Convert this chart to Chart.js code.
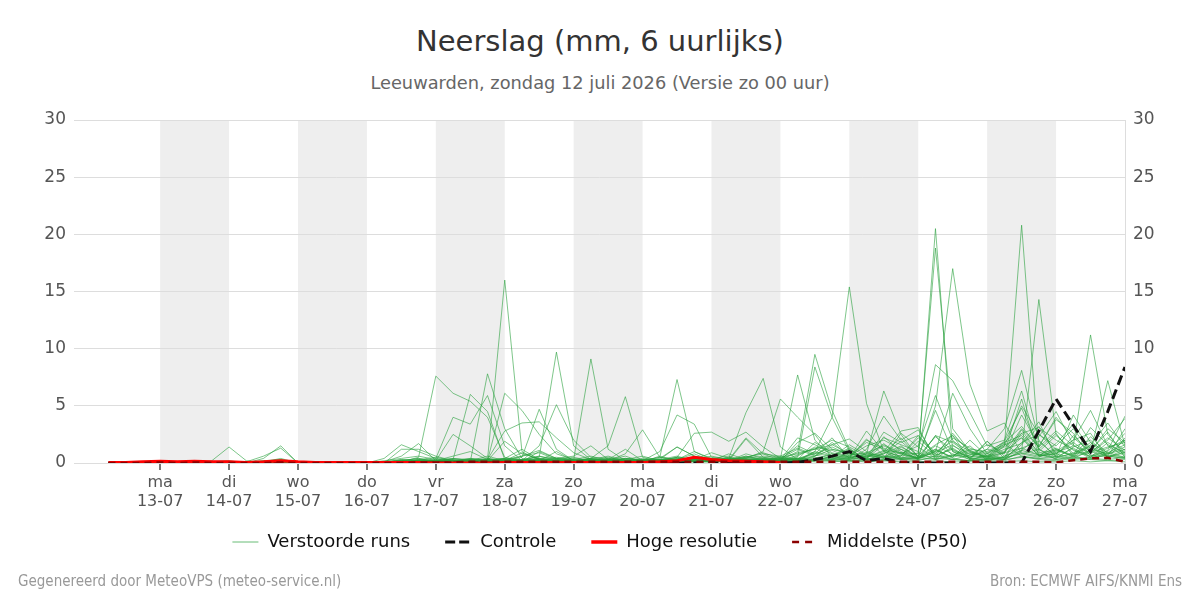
<!DOCTYPE html>
<html lang="nl">
<head>
<meta charset="utf-8">
<title>Neerslag (mm, 6 uurlijks)</title>
<script src="https://cdn.jsdelivr.net/npm/chart.js@4.4.1/dist/chart.umd.min.js"></script>
<style>
	body { margin: 0; background: #fff; font-family: 'DejaVu Sans', sans-serif; }
	#wrap { position: relative; width: 1200px; height: 600px; }
	#wrap canvas { position: absolute; left: 0; top: 0; }
	.title { position: absolute; left: 0; width: 1200px; top: 21px; height: 40px; line-height: 40px; text-align: center; font-size: 29px; color: #333; }
	.sub { position: absolute; left: 0; width: 1200px; top: 72px; height: 22px; line-height: 22px; text-align: center; font-size: 17.8px; color: #666; }
	.foot { position: absolute; top: 571px; height: 20px; line-height: 20px; font-family: 'DejaVu Sans Condensed', 'DejaVu Sans', sans-serif; font-size: 15px; color: #999; }
	.foot.left { left: 18px; }
	.foot.right { right: 18px; }
</style>
</head>
<body>
<div id="wrap">
	<div class="title">Neerslag (mm, 6 uurlijks)</div>
	<div class="sub">Leeuwarden, zondag 12 juli 2026 (Versie zo 00 uur)</div>
	<canvas id="rainChart" width="1200" height="600"></canvas>
	<div class="foot left">Gegenereerd door MeteoVPS (meteo-service.nl)</div>
	<div class="foot right">Bron: ECMWF AIFS/KNMI Ens</div>
</div>
<script>
// Tijdas: uren t.o.v. ma 13-07 00:00, 6-uurlijks vanaf zo 12-07 06:00
const firstHour = -18
const stepHours = 6
const axisMin = -30
const axisMax = 336

// Daglabels (middernacht)
const dayNames = ['ma', 'di', 'wo', 'do', 'vr', 'za', 'zo', 'ma', 'di', 'wo', 'do', 'vr', 'za', 'zo', 'ma']
const dayDates = ['13-07', '14-07', '15-07', '16-07', '17-07', '18-07', '19-07', '20-07', '21-07', '22-07', '23-07', '24-07', '25-07', '26-07', '27-07']
// Grijze dagen (index in dayDates)
const shadedDays = [0, 2, 4, 6, 8, 10, 12]

// Verstoorde runs (mm per 6 uur)
const perturbedRuns = [
	[0,0,0, 0.1,0,0,0.2, 1.4,0.2,0,0, 0,0,0,0, 0,0,0.1,0.5, 7.6,6.1,5.4,4.0, 0.5,0.2,0.3,0.1, 0.1,0,0.2,0.1, 0.1,0.2,0.5,2.6, 2.7,1.9,2.7,1.4, 0.4,0.2,1.0,4.0, 15.4,5.2,1.0,0.3, 0.5,1.2,0.4,0.2, 0.8,1.5,5.0,2.5, 1.5,3.0,1.0,0.6, 0.4],
	[0,0,0, 0,0.1,0,0, 0,0,0.4,1.5, 0,0,0,0, 0,0.1,0.2,0, 0,0,0.1,7.8, 3.0,0.4,0.1,0.2, 0.3,0.1,0,0.2, 0.1,0,0.3,0.2, 0.1,0.4,4.4,7.4, 1.4,0.3,0.2,0.6, 0.4,0.8,6.3,2.5, 0.5,0.3,1.5,0.8, 0.4,1.0,2.2,0.6, 0.9,1.5,11.2,2.5, 0.8],
	[0,0,0, 0.2,0,0,0, 0,0.1,0.6,1.3, 0,0,0,0, 0,0,0,0.2, 0.1,0.3,6.0,4.5, 0.3,0.1,0.2,0.4, 0.3,9.1,1.2,0.2, 0.1,0.3,0.2,0.4, 0.2,0.3,0.5,0.2, 0.3,1.0,9.5,4.6, 1.2,0.3,0.8,1.5, 0.4,5.0,17.0,6.9, 2.8,3.5,0.8,0.5, 1.2,0.6,0.9,2.0, 3.9],
	[0,0,0, 0,0,0,0.1, 0,0,0.2,0.3, 0,0,0,0, 0,0.4,1.6,1.0, 0.4,4.0,3.4,5.9, 1.5,0.2,0.1,0, 0.2,0.4,1.5,5.8, 0.5,0.2,0.1,0.3, 0.2,0.1,0.3,0.2, 0.4,7.7,2.0,0.5, 0.6,1.8,1.2,0.4, 0.5,20.5,1.0,0.3, 0.6,1.8,2.4,0.7, 1.0,2.0,4.6,1.5, 0.6],
	[0,0,0, 0.1,0,0,0, 0,0,0.1,0.4, 0,0,0,0, 0,0.1,0.6,1.7, 0.2,2.5,1.5,0.4, 0.1,0.3,0.6,0.2, 0.1,0.3,0.1,0.2, 0.2,0.5,7.3,1.0, 0.3,0.2,0.6,0.3, 0.2,0.5,8.4,4.0, 1.0,0.4,1.6,0.9, 0.8,18.8,3.0,1.0, 0.5,0.3,1.0,14.3, 2.5,0.8,1.4,0.5, 1.2],
	[0,0,0, 0,0,0.1,0, 0.1,0,0,0.2, 0,0,0,0, 0,0,1.2,1.2, 0.6,0.2,0.1,0.3, 16.0,1.0,0.2,0.1, 0.2,0.1,0.3,0.4, 0.2,0.3,1.4,0.6, 0.3,0.2,0.4,1.0, 5.6,4.0,2.5,0.5, 0.3,1.2,4.1,2.0, 2.9,0.5,0.7,1.2, 1.0,1.8,3.2,1.4, 4.0,2.2,1.0,3.0, 1.8],
	[0,0,0, 0,0.1,0,0, 0,0,0,0.2, 0,0,0,0, 0,0,0.3,0.2, 0.1,0.2,0.1,0.2, 6.1,4.6,2.5,0.8, 0.3,0.2,0.1,0.3, 0.2,1.0,4.2,3.4, 0.5,0.2,0.8,0.4, 0.3,0.2,0.6,1.2, 0.8,0.5,1.0,2.8, 3.1,0.3,0.6,1.1, 0.4,1.5,20.8,1.2, 0.3,0.6,1.8,0.9, 0.5],
	[0,0,0, 0,0,0,0, 0.1,0,0.2,0.1, 0,0,0,0, 0,0,0.2,0.1, 0.2,0.1,0.2,0.3, 2.8,3.5,3.6,2.2, 0.9,0.3,0.2,0.8, 2.9,0.5,0.3,0.2, 0.4,0.3,0.2,0.5, 0.3,1.5,0.8,2.2, 0.4,2.0,1.3,0.8, 1.5,5.9,2.0,0.5, 1.2,3.0,8.1,2.0, 0.5,0.8,1.0,7.2, 1.5],
	[0,0,0, 0,0,0,0.1, 0.2,0,0,0.1, 0,0,0,0, 0,0.2,0.4,0.6, 0.3,0.1,0.2,0.1, 0.2,0.5,4.7,1.2, 0.2,0.4,0.1,0.3, 0.2,0.1,0.4,0.3, 0.6,0.3,2.2,0.8, 0.2,0.6,1.4,1.1, 0.5,0.7,2.2,1.6, 1.0,8.6,7.2,4.4, 1.5,2.0,6.3,1.0, 2.4,1.1,0.6,1.3, 2.0],
	[0,0,0, 0,0,0,0, 0,0,0,0.1, 0,0,0,0, 0,0.1,0.2,0.4, 0.1,0.2,0.1,0.3, 0.2,0.3,0.5,9.7, 1.5,0.3,0.2,0.1, 0.3,0.2,0.5,0.2, 0.1,0.5,0.2,0.3, 0.2,1.8,2.6,1.2, 0.9,0.3,2.3,1.0, 0.4,1.0,6.1,3.0, 0.8,0.4,2.6,3.1, 2.0,1.2,0.4,0.9, 1.6],
	[0,0,0, 0,0,0,0, 0,0,0,0, 0,0,0,0, 0,0,0.1,0.3, 0.2,0.4,0.3,0.2, 0.4,0.2,1.5,5.1, 2.0,0.5,0.4,0.2, 0.1,0.3,0.2,0.5, 0.4,0.2,0.3,0.1, 0.5,0.8,1.2,2.0, 1.4,0.6,0.8,1.9, 0.6,4.6,1.0,0.5, 1.2,0.8,4.2,1.5, 3.8,2.6,0.6,1.0, 2.6],
	[0,0,0, 0,0,0,0, 0,0,0.1,0.3, 0,0,0,0, 0,0,0.1,0.2, 0.1,0.2,0.4,0.2, 1.9,0.8,0.4,0.2, 0.1,0.4,0.2,0.1, 0.2,0.4,1.4,0.6, 0.3,0.2,2.1,0.5, 0.3,2.2,1.6,0.8, 0.4,2.8,1.0,0.6, 2.2,0.8,2.4,1.1, 0.6,0.9,3.0,1.4, 2.8,1.5,0.9,2.2, 1.1],
	[0,0,0, 0,0.1,0,0, 0,0,0,0, 0,0,0,0, 0,0,0,0.1, 0.2,0.6,1.0,0.3, 0.2,0.1,1.0,0.4, 0.6,1.5,0.3,0.2, 0.4,0.2,0.3,1.0, 0.4,0.2,0.5,0.9, 0.4,1.2,0.6,1.8, 0.6,1.5,2.0,1.2, 0.3,2.4,1.8,0.7, 0.9,1.6,2.2,0.6, 1.7,3.4,1.2,0.8, 1.4],
	[0,0,0, 0,0,0,0.1, 0,0,0,0, 0,0,0,0, 0,0,0.2,0.4, 0.1,0.2,0.1,0.3, 0.4,0.3,0.2,1.0, 0.2,0.3,0.6,0.2, 0.1,0.6,0.2,0.4, 0.2,0.8,0.3,0.2, 0.6,0.3,1.0,0.6, 1.3,0.2,0.9,2.2, 0.5,1.6,2.4,0.3, 1.9,0.4,1.6,3.2, 0.8,2.0,2.6,0.4, 2.2],
	[0,0,0, 0,0,0,0, 0,0,0.1,0.2, 0,0,0,0, 0,0.1,0.3,0.2, 0.2,0.1,0.3,0.1, 0.3,0.2,0.6,0.3, 0.5,0.2,0.3,1.2, 0.2,0.1,0.2,0.3, 0.4,0.6,0.2,0.1, 0.3,0.4,0.8,1.4, 0.7,0.9,1.5,0.8, 0.4,1.2,0.5,2.0, 0.6,0.3,1.8,2.5, 1.2,0.7,3.1,1.6, 0.9],
	[0,0,0, 0,0,0,0, 0,0,0,0.1, 0,0,0,0, 0,0,0,0.3, 0.5,0.2,0.1,0.2, 0.4,1.2,0.3,0.2, 0.1,0.2,0.1,0.4, 0.2,0.3,0.6,0.2, 0.1,0.3,0.4,0.6, 0.5,0.2,0.4,0.3, 0.9,0.4,0.3,0.6, 2.4,0.9,1.6,0.4, 0.3,0.9,1.3,1.9, 0.6,4.2,1.8,0.5, 1.0],
	[0,0,0, 0,0,0,0, 0,0,0,0, 0,0,0,0, 0,0,0,0.1, 0.1,0.3,0.2,0.1, 0.2,0.1,0.4,0.5, 0.3,0.6,0.2,0.1, 0.2,0.5,0.2,0.3, 0.9,0.4,0.3,0.2, 0.4,0.3,1.8,0.9, 0.5,2.1,0.6,0.3, 0.4,2.4,0.6,1.5, 0.2,0.5,2.9,0.8, 0.4,1.4,2.0,0.6, 3.0],
	[0,0,0, 0,0,0,0, 0,0,0,0, 0,0,0,0, 0,0,0,0, 0.1,0.1,0.2,0.6, 0.2,0.9,0.3,0.2, 0.2,0.1,0.3,0.6, 0.1,0.2,0.3,0.1, 0.2,0.5,0.1,0.3, 0.2,0.7,1.3,0.6, 0.3,0.6,1.7,0.4, 1.9,0.6,2.6,0.9, 0.5,1.2,1.7,3.6, 0.5,1.3,0.5,1.8, 0.7],
	[0,0,0, 0,0,0,0, 0,0,0,0.1, 0,0,0,0, 0,0.1,0.2,0.1, 0.4,0.2,0.3,0.2, 0.3,0.6,1.1,0.4, 0.2,0.3,0.1,0.2, 0.3,0.1,0.2,0.3, 0.2,0.1,0.4,0.2, 0.1,0.4,0.6,1.6, 2.1,1.0,0.5,1.2, 0.6,0.8,0.3,0.7, 1.6,0.9,5.6,0.6, 0.8,0.4,1.1,2.7, 0.5],
	[0,0,0, 0,0,0,0, 0,0,0,0, 0,0,0,0, 0,0,0,0.2, 0.2,0.1,0.4,0.3, 0.2,0.3,0.2,0.1, 0.4,0.2,0.5,0.2, 0.3,0.2,0.4,0.1, 0.2,0.3,0.6,0.2, 0.3,0.2,0.9,0.5, 1.6,0.7,0.4,2.6, 1.4,0.4,2.2,1.3, 0.8,1.9,4.8,1.2, 0.5,2.4,0.9,1.4, 1.8],
	[0,0,0, 0,0,0,0, 0,0,0,0, 0,0,0,0, 0,0,0.1,0.1, 0.2,0.3,0.1,0.2, 0.1,0.2,0.3,0.4, 0.2,0.1,0.2,0.3, 0.6,0.2,0.3,0.4, 0.3,0.4,0.2,0.1, 0.2,0.4,0.3,0.8, 0.6,0.5,1.1,0.9, 0.3,1.1,0.5,0.9, 0.6,1.4,2.6,0.9, 1.1,0.6,2.3,0.8, 1.2],
	[0,0,0, 0,0,0,0, 0,0,0,0, 0,0,0,0, 0,0,0,0, 0,0.2,0.1,0.3, 0.1,0.2,0.1,0.3, 0.1,0.2,0.4,0.1, 0.2,0.3,0.1,0.2, 0.3,0.2,0.3,0.4, 0.2,0.3,0.5,0.3, 0.4,0.9,0.4,0.7, 0.5,0.6,1.3,0.4, 0.3,0.5,0.8,1.2, 2.6,0.6,0.3,0.8, 2.0],
	[0,0,0, 0,0,0,0, 0,0,0,0, 0,0,0,0, 0,0,0,0.1, 0.1,0.1,0.2,0.1, 0.3,0.1,0.2,0.2, 0.3,0.2,0.1,0.2, 0.1,0.2,0.3,0.8, 0.2,0.4,0.2,0.3, 0.1,0.2,0.3,0.4, 0.2,0.3,0.6,0.5, 0.4,1.5,0.8,0.3, 0.2,0.6,1.1,0.7, 0.4,0.9,1.5,0.6, 0.4],
	[0,0,0, 0,0,0,0, 0,0,0,0, 0,0,0,0, 0,0,0,0, 0,0,0.1,0.2, 0.2,0.1,0.2,0.1, 0.2,0.3,0.1,0.2, 0.1,0.3,0.2,0.4, 0.2,0.3,0.1,0.2, 0.3,0.1,0.2,0.3, 0.5,0.2,0.3,0.4, 0.3,0.4,0.3,0.2, 0.4,0.3,0.5,0.4, 0.3,0.5,0.4,0.3, 0.5],
	[0,0,0, 0,0,0,0, 0,0,0,0, 0,0,0,0, 0,0,0,0, 0.1,0,0.1,0.1, 0.1,0.2,0.1,0.1, 0.1,0.1,0.2,0.1, 0.1,0.1,0.2,0.1, 0.1,0.2,0.1,0.1, 0.2,0.1,0.3,0.2, 0.1,0.3,0.2,0.3, 0.2,0.6,0.3,0.2, 0.3,0.2,0.6,0.3, 0.2,0.4,0.3,0.2, 0.3],
	[0,0,0, 0,0,0,0, 0,0,0,0, 0,0,0,0, 0,0,0.1,0.3, 0.2,0.4,0.2,0.1, 0.3,0.2,0.4,0.2, 0.1,0.3,0.2,0.4, 0.3,0.2,0.5,0.3, 0.2,0.3,0.2,0.4, 0.3,0.9,1.2,1.6, 0.8,0.4,2.7,1.8, 2.4,0.7,1.2,0.4, 1.9,0.6,1.3,0.7, 1.3,0.5,1.6,3.5, 1.4],
	[0,0,0, 0,0,0,0, 0,0,0,0, 0,0,0,0, 0,0,0,0, 0.1,0.2,0.3,0.2, 0.1,0.3,0.2,0.3, 0.2,0.1,0.3,0.2, 0.1,0.2,0.3,0.2, 0.1,0.2,0.3,0.2, 0.4,0.3,0.2,0.6, 1.2,0.3,0.5,1.4, 0.6,2.3,1.1,0.6, 0.4,0.3,1.1,2.3, 4.5,1.6,0.5,1.1, 4.1],
	[0,0,0, 0,0,0,0, 0,0,0,0, 0,0,0,0, 0,0,0,0, 0,0.1,0.2,0.1, 0.2,0.1,0.3,0.2, 0.2,0.4,0.2,0.1, 0.2,0.1,0.2,0.3, 0.2,0.1,0.2,0.3, 0.2,0.4,0.3,0.2, 0.3,0.8,0.6,0.4, 0.9,0.3,0.7,0.5, 0.6,0.4,0.9,0.6, 0.8,1.8,0.7,0.5, 0.9],
	[0,0,0, 0,0,0,0, 0,0,0,0, 0,0,0,0, 0,0,0,0, 0,0,0,0.1, 0.1,0.1,0.1,0.2, 0.1,0.1,0.1,0.1, 0.1,0.2,0.1,0.1, 0.1,0.1,0.1,0.2, 0.1,0.2,0.1,0.1, 0.2,0.1,0.2,0.1, 0.1,0.2,0.1,0.1, 0.2,0.1,0.2,0.1, 0.1,0.2,0.1,0.2, 0.1],
	[0,0,0, 0,0,0,0, 0,0,0,0, 0,0,0,0, 0,0,0,0.2, 0.3,0.1,0.2,0.4, 0.2,0.6,0.9,0.3, 0.2,0.1,0.3,0.2, 0.1,0.3,0.2,0.4, 0.1,0.2,0.5,0.8, 0.6,1.3,0.7,0.4, 0.2,0.6,0.5,0.9, 0.4,1.0,1.9,1.0, 0.5,1.7,0.6,0.4, 0.6,0.3,0.5,0.7, 0.5],
]

// Controle run
const controlRun = [0,0,0, 0.05,0,0,0, 0,0,0,0, 0,0,0,0, 0,0,0,0, 0,0,0,0, 0,0,0,0, 0,0,0,0, 0,0,0,0, 0,0,0,0, 0,0.05,0.3,0.6, 1.0,0.2,0.4,0.05, 0,0,0,0, 0,0,0,2.8, 5.6,3.3,1.0,4.5, 8.4]
// Hoge resolutie (loopt tot 22-07 00:00)
const hresRun = [0.05,0.05,0.1, 0.15,0.1,0.15,0.1, 0.1,0.05,0.1,0.2, 0.1,0.05,0.05,0.05, 0.05,0.05,0.05,0.05, 0,0,0,0, 0.05,0.05,0.05,0.05, 0.05,0.05,0.05,0.05, 0.05,0.1,0.2,0.5, 0.3,0.2,0.15,0.1, 0.05]
// Middelste (P50)
const medianRun = [0,0,0, 0.05,0,0.05,0, 0,0,0,0.05, 0,0,0,0, 0,0,0,0.05, 0.05,0.05,0.1,0.1, 0.1,0.1,0.1,0.1, 0.1,0.1,0.1,0.1, 0.1,0.1,0.1,0.1, 0.1,0.1,0.1,0.1, 0.1,0.1,0.1,0.1, 0.1,0.1,0.1,0.1, 0.1,0.1,0.1,0.1, 0.1,0.1,0.1,0.1, 0.05,0.25,0.4,0.45, 0.1]

const runHours = controlRun.map((v, i) => firstHour + i * stepHours)
const toPoints = values => values.map((v, i) => ({ x: runHours[i], y: v }))

const ensembleColor = 'rgba(40, 160, 60, 0.6)'

const legendItems = [
	{ text: 'Verstoorde runs', strokeStyle: 'rgba(40, 160, 60, 0.7)', lineWidth: 1, lineDash: [] },
	{ text: 'Controle', strokeStyle: '#111', lineWidth: 3, lineDash: [10, 4] },
	{ text: 'Hoge resolutie', strokeStyle: '#ff0000', lineWidth: 3.5, lineDash: [] },
	{ text: 'Middelste (P50)', strokeStyle: '#8b0000', lineWidth: 2.5, lineDash: [7, 6] },
]

// Grijze achtergrond voor om-en-om dagen
const dayBands = {
	id: 'dayBands',
	beforeDraw(chart) {
		const { ctx, chartArea, scales } = chart
		ctx.save()
		ctx.fillStyle = '#eeeeee'
		shadedDays.forEach(d => {
			const x1 = scales.x.getPixelForValue(d * 24)
			const x2 = scales.x.getPixelForValue(d * 24 + 24)
			ctx.fillRect(x1, chartArea.top, x2 - x1, chartArea.bottom - chartArea.top)
		})
		ctx.restore()
	},
}

// Legenda iets hoger zetten (ruimte tussen items blijft gelijk)
const legendShift = {
	id: 'legendShift',
	afterLayout(chart) {
		const legend = chart.legend
		if (!legend) return
		legend.top -= 23
		legend.bottom -= 23
	},
}

Chart.defaults.font.family = "'DejaVu Sans', sans-serif"

const datasets = [
	{
		label: 'Controle',
		data: toPoints(controlRun),
		borderColor: '#111',
		borderWidth: 3,
		borderDash: [10, 5],
		order: 2,
	},
	{
		label: 'Hoge resolutie',
		data: toPoints(hresRun),
		borderColor: '#ff0000',
		borderWidth: 3,
		order: 1,
	},
	{
		label: 'Middelste (P50)',
		data: toPoints(medianRun),
		borderColor: '#8b0000',
		borderWidth: 2.5,
		borderDash: [7, 5],
		order: 0,
	},
]
perturbedRuns.forEach((run, k) => {
	datasets.push({
		label: 'Verstoorde runs ' + (k + 1),
		data: toPoints(run),
		borderColor: ensembleColor,
		borderWidth: 1,
		order: 10,
	})
})

const rainChart = new Chart(document.getElementById('rainChart').getContext('2d'), {
	type: 'line',
	data: { datasets },
	plugins: [dayBands, legendShift],
	options: {
		responsive: false,
		animation: false,
		parsing: true,
		elements: { point: { radius: 0 }, line: { tension: 0 } },
		layout: { padding: { top: 120, bottom: 16, left: 0, right: 0 } },
		scales: {
			x: {
				type: 'linear',
				min: axisMin,
				max: axisMax,
				afterBuildTicks: s => {
					s.ticks = dayDates.map((d, k) => ({ value: k * 24 }))
				},
				afterFit: s => {
					s.height = 58
				},
				grid: { drawOnChartArea: false, drawTicks: true, tickLength: 7, color: '#777', lineWidth: 2 },
				border: { display: false },
				ticks: {
					color: '#555',
					font: { size: 16 },
					padding: 3,
					maxRotation: 0,
					autoSkip: false,
					callback: (v, k) => [dayNames[k], dayDates[k]],
				},
			},
			y: {
				position: 'left',
				min: 0,
				max: 30,
				afterFit: s => {
					s.width = 74
				},
				grid: { color: '#dddddd', drawTicks: false },
				border: { display: false },
				ticks: { stepSize: 5, color: '#555', font: { size: 17 }, padding: 8 },
			},
			y2: {
				position: 'right',
				min: 0,
				max: 30,
				afterFit: s => {
					s.width = 75
				},
				grid: { display: false, drawTicks: false },
				border: { display: true, color: '#dddddd' },
				ticks: { stepSize: 5, color: '#555', font: { size: 17 }, padding: 8 },
			},
		},
		plugins: {
			tooltip: { enabled: false },
			legend: {
				position: 'bottom',
				labels: {
					color: '#111',
					font: { size: 18 },
					usePointStyle: true,
					pointStyleWidth: 26,
					padding: 35,
					generateLabels: () =>
						legendItems.map((item, k) => ({
							text: item.text,
							strokeStyle: item.strokeStyle,
							fillStyle: item.strokeStyle,
							lineWidth: item.lineWidth,
							lineDash: item.lineDash,
							pointStyle: 'line',
							hidden: false,
							datasetIndex: k,
							fontColor: '#111',
						})),
				},
			},
		},
	},
})
</script>
</body>
</html>
